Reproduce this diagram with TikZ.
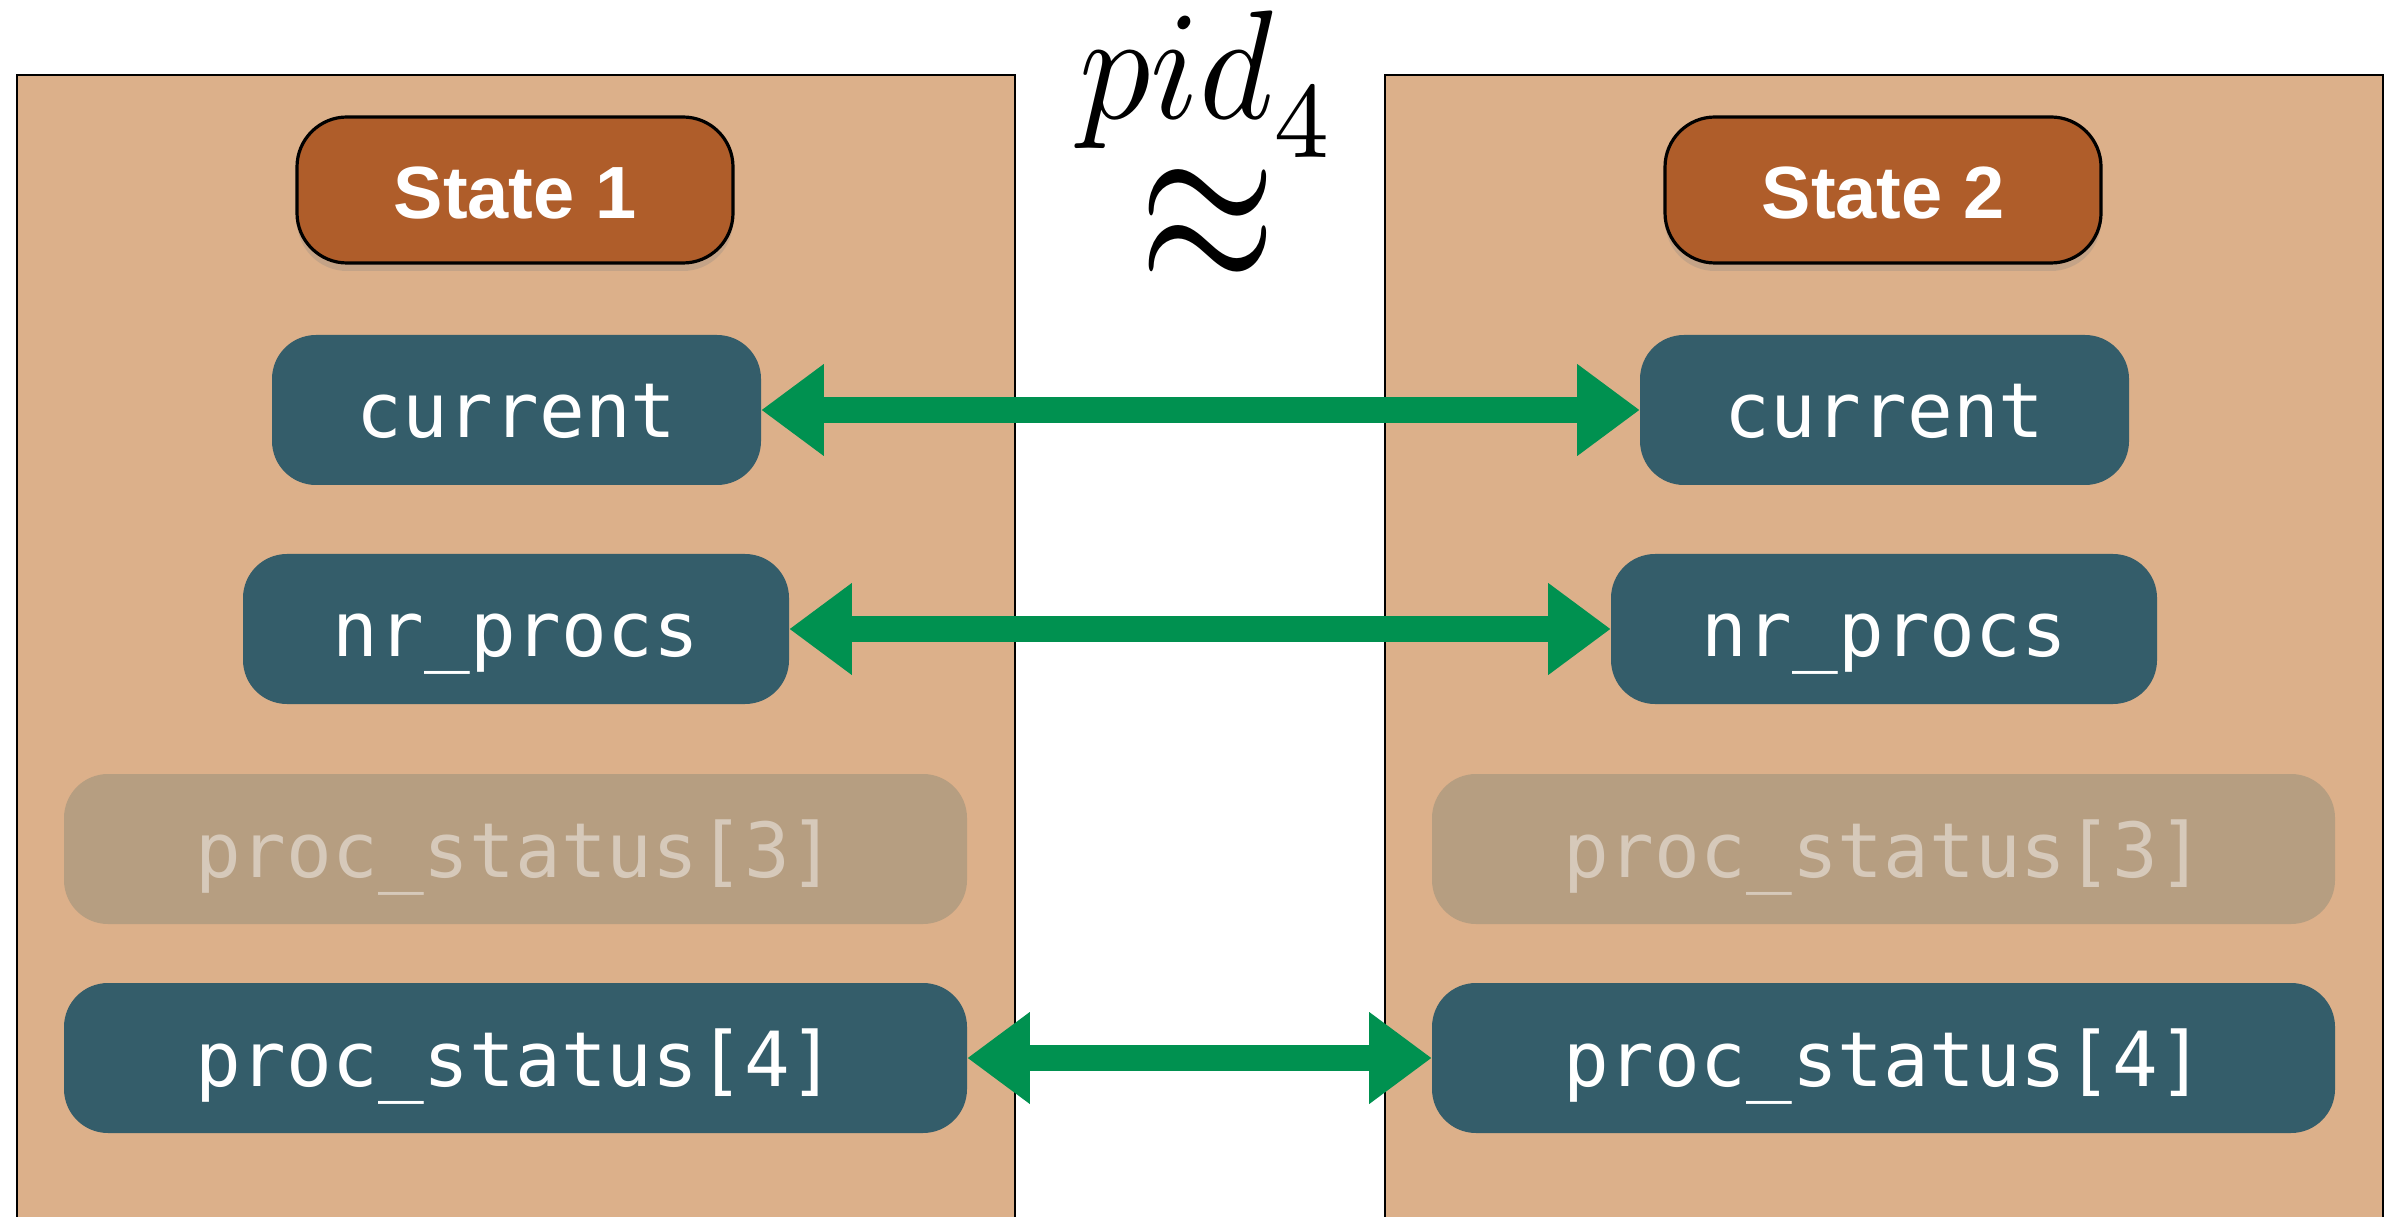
\documentclass[tikz,border=0pt]{standalone}
\usepackage{fontspec}
\newfontfamily\statefont{Liberation Sans}
\newfontfamily\codefont{DejaVu Sans Mono}
\usetikzlibrary{arrows.meta,shadows}
\definecolor{tanbg}{HTML}{DCB08A}
\definecolor{statefill}{HTML}{AF5D2A}
\definecolor{tealbox}{HTML}{345D6A}
\definecolor{greybox}{HTML}{B69E81}
\definecolor{greytext}{HTML}{D6C9BA}
\definecolor{arrowgreen}{HTML}{009150}
\tikzset{
  panel/.style={fill=tanbg},
  panelline/.style={draw=black, line width=0.5pt},
  statebox/.style={draw=black, line width=0.8pt, fill=statefill, rounded corners=12.5pt,
    minimum width=109pt, minimum height=36.5pt, inner sep=0pt,
    text=white, font=\statefont\bfseries\fontsize{18.5}{20}\selectfont,
    text height=14.5pt, text depth=0pt,
    drop shadow={opacity=0.25, shadow xshift=0pt, shadow yshift=-2pt}},
  varbox/.style={fill=tealbox, rounded corners=11pt, minimum height=37.5pt, inner sep=0pt,
    text=white, font=\codefont\fontsize{19}{21}\selectfont,
    text height=14pt, text depth=0pt},
  greyvar/.style={varbox, fill=greybox, text=greytext},
  eqarrow/.style={draw=arrowgreen, line width=6.5pt,
    {Triangle[length=15.5pt,width=23pt,line width=0pt]}-{Triangle[length=15.5pt,width=23pt,line width=0pt]}}
}
\begin{document}
\begin{tikzpicture}[x=0.25pt, y=-0.25pt]
\useasboundingbox (0,0) rectangle (2394,1217);
\fill[white] (0,0) rectangle (2394,1217);
\clip (0,0) rectangle (2394,1217);
% panels
\fill[panel] (17,75) rectangle (1015,1240);
\draw[panelline] (17,1240) -- (17,75) -- (1015,75) -- (1015,1240);
\fill[panel] (1385,75) rectangle (2383,1240);
\draw[panelline] (1385,1240) -- (1385,75) -- (2383,75) -- (2383,1240);
% state headers
\node[statebox] (s1) at (515,190) {State 1};
\node[statebox] (s2) at (1883,190) {State 2};
% variables, left
\node[varbox, minimum width=122.25pt] (cur1) at (516.5,410) {current};
\node[varbox, minimum width=136.5pt] (nr1) at (516,629) {nr\_procs};
\node[greyvar, minimum width=225.75pt] (ps31) at (515.5,849) {proc\_status[3]};
\node[varbox, minimum width=225.75pt] (ps41) at (515.5,1058) {proc\_status[4]};
% variables, right
\node[varbox, minimum width=122.25pt] (cur2) at (1884.5,410) {current};
\node[varbox, minimum width=136.5pt] (nr2) at (1884,629) {nr\_procs};
\node[greyvar, minimum width=225.75pt] (ps32) at (1883.5,849) {proc\_status[3]};
\node[varbox, minimum width=225.75pt] (ps42) at (1883.5,1058) {proc\_status[4]};
% label
\node[inner sep=0pt, anchor=base] (pid) at (1208,119)
  {\scalebox{3.55}[3.875]{$pid_{\raisebox{-1pt}{$\scriptstyle 4$}}$}};
\node[inner sep=0pt] (approx) at (1208,228)
  {\scalebox{4.4}[6.0]{$\approx$}};
% arrows
\draw[eqarrow] (cur1.east) -- (cur2.west);
\draw[eqarrow] (nr1.east) -- (nr2.west);
\draw[eqarrow] (ps41.east) -- (ps42.west);
\end{tikzpicture}
\end{document}
